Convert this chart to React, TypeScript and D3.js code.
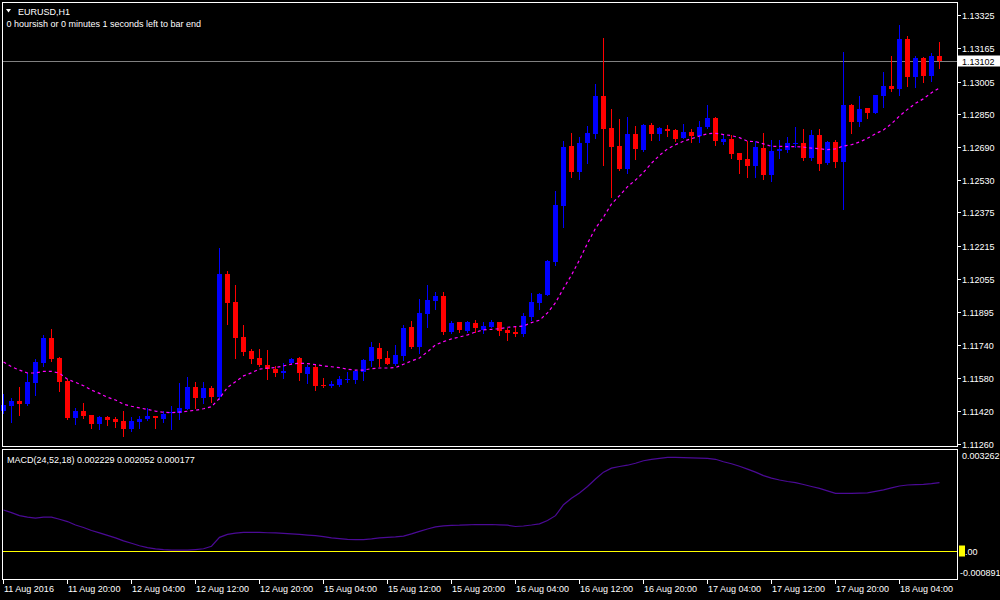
import { useEffect, useRef } from 'react';
import * as d3 from 'd3';

// EURUSD H1 bars, 11 Aug 2016 12:00 .. 18 Aug 2016 09:00
const opens = [
  1.11420, 1.11444, 1.11468, 1.11454, 1.11555, 1.11651, 1.11771, 1.11675, 1.11565, 1.11387,
  1.11420, 1.11401, 1.11358, 1.11391, 1.11382, 1.11372, 1.11334, 1.11367, 1.11382, 1.11396,
  1.11382, 1.11411, 1.11411, 1.11430, 1.11536, 1.11483, 1.11531, 1.11488, 1.12079, 1.11945,
  1.11776, 1.11709, 1.11675, 1.11642, 1.11622, 1.11603, 1.11651, 1.11675, 1.11598, 1.11632,
  1.11546, 1.11541, 1.11545, 1.11569, 1.11569, 1.11608, 1.11661, 1.11723, 1.11675, 1.11646,
  1.11685, 1.11824, 1.11728, 1.11887, 1.11949, 1.11973, 1.11800, 1.11848, 1.11805, 1.11844,
  1.11810, 1.11824, 1.11848, 1.11810, 1.11800, 1.11791, 1.11872, 1.11940, 1.11978, 1.12137,
  1.12406, 1.12695, 1.12570, 1.12709, 1.12753, 1.12935, 1.12781, 1.12695, 1.12584, 1.12753,
  1.12676, 1.12796, 1.12753, 1.12777, 1.12772, 1.12733, 1.12762, 1.12743, 1.12786, 1.12830,
  1.12714, 1.12729, 1.12661, 1.12632, 1.12599, 1.12685, 1.12555, 1.12671, 1.12676, 1.12705,
  1.12709, 1.12637, 1.12748, 1.12613, 1.12714, 1.12618, 1.12892, 1.12810, 1.12878, 1.12854,
  1.12935, 1.12983, 1.12969, 1.13210, 1.13027, 1.13118, 1.13032, 1.13128,
];

const highs = [
  1.11502, 1.11483, 1.11536, 1.11603, 1.11670, 1.11786, 1.11815, 1.11680, 1.11574, 1.11435,
  1.11459, 1.11403, 1.11396, 1.11396, 1.11391, 1.11420, 1.11391, 1.11396, 1.11435, 1.11398,
  1.11420, 1.11444, 1.11555, 1.11584, 1.11560, 1.11560, 1.11541, 1.12204, 1.12094, 1.12026,
  1.11834, 1.11718, 1.11718, 1.11714, 1.11637, 1.11651, 1.11675, 1.11680, 1.11642, 1.11642,
  1.11579, 1.11565, 1.11589, 1.11608, 1.11617, 1.11670, 1.11752, 1.11747, 1.11709, 1.11738,
  1.11834, 1.11853, 1.11959, 1.12026, 1.11993, 1.11993, 1.11853, 1.11850, 1.11853, 1.11858,
  1.11848, 1.11858, 1.11850, 1.11819, 1.11829, 1.11892, 1.11988, 1.11988, 1.12147, 1.12478,
  1.12719, 1.12757, 1.12738, 1.12791, 1.12993, 1.13214, 1.12873, 1.12825, 1.12834, 1.12791,
  1.12801, 1.12806, 1.12786, 1.12796, 1.12777, 1.12801, 1.12777, 1.12815, 1.12892, 1.12832,
  1.12748, 1.12748, 1.12663, 1.12719, 1.12719, 1.12757, 1.12724, 1.12724, 1.12738, 1.12786,
  1.12777, 1.12772, 1.12777, 1.12719, 1.12724, 1.13147, 1.12897, 1.12935, 1.12880, 1.12942,
  1.13051, 1.13128, 1.13277, 1.13224, 1.13128, 1.13123, 1.13142, 1.13195,
];

const lows = [
  1.11411, 1.11367, 1.11401, 1.11449, 1.11497, 1.11637, 1.11661, 1.11516, 1.11382, 1.11358,
  1.11387, 1.11339, 1.11334, 1.11353, 1.11343, 1.11300, 1.11324, 1.11339, 1.11377, 1.11339,
  1.11367, 1.11334, 1.11382, 1.11428, 1.11435, 1.11459, 1.11463, 1.11478, 1.11839, 1.11675,
  1.11690, 1.11651, 1.11637, 1.11574, 1.11589, 1.11579, 1.11646, 1.11569, 1.11555, 1.11521,
  1.11536, 1.11536, 1.11541, 1.11560, 1.11555, 1.11569, 1.11637, 1.11637, 1.11644, 1.11642,
  1.11666, 1.11723, 1.11699, 1.11824, 1.11911, 1.11791, 1.11795, 1.11800, 1.11800, 1.11800,
  1.11795, 1.11822, 1.11786, 1.11762, 1.11781, 1.11781, 1.11858, 1.11911, 1.11976, 1.12123,
  1.12305, 1.12546, 1.12536, 1.12613, 1.12733, 1.12604, 1.12450, 1.12579, 1.12565, 1.12632,
  1.12671, 1.12724, 1.12724, 1.12743, 1.12719, 1.12731, 1.12714, 1.12714, 1.12781, 1.12700,
  1.12705, 1.12637, 1.12565, 1.12546, 1.12546, 1.12536, 1.12527, 1.12637, 1.12666, 1.12690,
  1.12628, 1.12628, 1.12579, 1.12608, 1.12594, 1.12392, 1.12757, 1.12791, 1.12830, 1.12852,
  1.12882, 1.12959, 1.12940, 1.12983, 1.12979, 1.13003, 1.13008, 1.13070,
];

const closes = [
  1.11449, 1.11468, 1.11454, 1.11560, 1.11656, 1.11771, 1.11670, 1.11560, 1.11387, 1.11420,
  1.11396, 1.11358, 1.11391, 1.11377, 1.11367, 1.11334, 1.11372, 1.11382, 1.11396, 1.11387,
  1.11406, 1.11415, 1.11435, 1.11536, 1.11483, 1.11531, 1.11488, 1.12079, 1.11940, 1.11771,
  1.11704, 1.11670, 1.11640, 1.11622, 1.11603, 1.11613, 1.11670, 1.11603, 1.11632, 1.11541,
  1.11540, 1.11550, 1.11574, 1.11574, 1.11613, 1.11666, 1.11728, 1.11670, 1.11646, 1.11690,
  1.11819, 1.11728, 1.11892, 1.11954, 1.11973, 1.11800, 1.11844, 1.11810, 1.11848, 1.11819,
  1.11829, 1.11848, 1.11805, 1.11795, 1.11791, 1.11877, 1.11945, 1.11983, 1.12142, 1.12411,
  1.12690, 1.12570, 1.12709, 1.12757, 1.12935, 1.12777, 1.12690, 1.12584, 1.12753, 1.12681,
  1.12796, 1.12753, 1.12781, 1.12767, 1.12729, 1.12762, 1.12743, 1.12786, 1.12830, 1.12719,
  1.12729, 1.12656, 1.12628, 1.12599, 1.12690, 1.12555, 1.12671, 1.12681, 1.12709, 1.12709,
  1.12637, 1.12748, 1.12608, 1.12714, 1.12618, 1.12892, 1.12810, 1.12873, 1.12854, 1.12940,
  1.12983, 1.12969, 1.13210, 1.13027, 1.13118, 1.13032, 1.13128, 1.13102,
];

// moving average overlay (magenta dashed)
const maValues = [
  1.11656, 1.11633, 1.11617, 1.11603, 1.11603, 1.11611, 1.11611, 1.11602, 1.11573, 1.11558,
  1.11542, 1.11521, 1.11505, 1.11486, 1.11473, 1.11453, 1.11443, 1.11435, 1.11428, 1.11420,
  1.11414, 1.11412, 1.11415, 1.11419, 1.11424, 1.11431, 1.11441, 1.11481, 1.11534, 1.11561,
  1.11589, 1.11604, 1.11622, 1.11626, 1.11629, 1.11637, 1.11646, 1.11650, 1.11648, 1.11643,
  1.11637, 1.11633, 1.11629, 1.11621, 1.11617, 1.11617, 1.11624, 1.11627, 1.11627, 1.11629,
  1.11645, 1.11661, 1.11675, 1.11705, 1.11738, 1.11754, 1.11767, 1.11776, 1.11786, 1.11800,
  1.11810, 1.11813, 1.11816, 1.11823, 1.11826, 1.11829, 1.11845, 1.11857, 1.11892, 1.11941,
  1.12010, 1.12074, 1.12147, 1.12227, 1.12299, 1.12353, 1.12416, 1.12456, 1.12499, 1.12531,
  1.12568, 1.12612, 1.12650, 1.12681, 1.12701, 1.12718, 1.12730, 1.12743, 1.12754, 1.12756,
  1.12750, 1.12745, 1.12735, 1.12718, 1.12716, 1.12705, 1.12693, 1.12693, 1.12692, 1.12692,
  1.12689, 1.12685, 1.12682, 1.12677, 1.12681, 1.12695, 1.12701, 1.12714, 1.12732, 1.12754,
  1.12772, 1.12802, 1.12839, 1.12871, 1.12900, 1.12922, 1.12951, 1.12974,
];

const macdValues = [
  0.001322, 0.001236, 0.001141, 0.001094, 0.001062, 0.001094, 0.001094, 0.001024, 0.000951, 0.000840,
  0.000761, 0.000666, 0.000586, 0.000507, 0.000428, 0.000333, 0.000254, 0.000174, 0.000117, 0.000073,
  0.000048, 0.000032, 0.000032, 0.000032, 0.000054, 0.000079, 0.000159, 0.000444, 0.000539, 0.000580,
  0.000602, 0.000602, 0.000602, 0.000593, 0.000586, 0.000571, 0.000555, 0.000539, 0.000517, 0.000498,
  0.000466, 0.000428, 0.000406, 0.000380, 0.000371, 0.000374, 0.000396, 0.000428, 0.000444, 0.000460,
  0.000485, 0.000555, 0.000634, 0.000713, 0.000783, 0.000815, 0.000831, 0.000834, 0.000846, 0.000856,
  0.000856, 0.000856, 0.000846, 0.000834, 0.000793, 0.000808, 0.000840, 0.000878, 0.000983, 0.001141,
  0.001490, 0.001696, 0.001870, 0.002076, 0.002314, 0.002536, 0.002663, 0.002717, 0.002758, 0.002821,
  0.002901, 0.002948, 0.002980, 0.003012, 0.003012, 0.003002, 0.002996, 0.002986, 0.002980, 0.002948,
  0.002869, 0.002806, 0.002726, 0.002631, 0.002536, 0.002425, 0.002346, 0.002283, 0.002235, 0.002197,
  0.002140, 0.002076, 0.002013, 0.001934, 0.001855, 0.001855, 0.001855, 0.001861, 0.001870, 0.001918,
  0.001966, 0.002029, 0.002092, 0.002124, 0.002134, 0.002146, 0.002165, 0.002200,
];

const priceTicks = [
  1.13325, 1.13165, 1.13005, 1.12850, 1.12690, 1.12530, 1.12375,
  1.12215, 1.12055, 1.11895, 1.11740, 1.11580, 1.11420, 1.11260,
];

const timeLabels = [
  '11 Aug 2016', '11 Aug 20:00', '12 Aug 04:00', '12 Aug 12:00', '12 Aug 20:00',
  '15 Aug 04:00', '15 Aug 12:00', '15 Aug 20:00', '16 Aug 04:00', '16 Aug 12:00',
  '16 Aug 20:00', '17 Aug 04:00', '17 Aug 12:00', '17 Aug 20:00', '18 Aug 04:00',
];

const lastPrice = 1.13102;
const macdMin = -0.000891;
const macdMax = 0.003262;
const title = 'EURUSD,H1';
const subtitle = '0 hoursish or 0 minutes 1 seconds left to bar end';
const macdLegend = 'MACD(24,52,18) 0.002229 0.002052 0.000177';

const FONT = '"Liberation Sans", Arial, sans-serif';

export default function App() {
  const svgRef = useRef<SVGSVGElement>(null);
  const width = 1000;
  const height = 600;

  useEffect(() => {
    if (!svgRef.current) return;
    const svg = d3.select(svgRef.current);
    svg.selectAll('*').remove();

    const main = { left: 2.5, right: 957.5, top: 2.5, bottom: 446.5 };
    const sub = { top: 449.5, bottom: 579.5 };

    const x = d3.scaleLinear().domain([0, opens.length - 1]).range([3, 939]);
    const y = d3.scaleLinear().domain([1.1126, 1.13325]).range([444.3, 15]);
    const ym = d3.scaleLinear().domain([macdMin, macdMax]).range([579, 449.5]);

    svg.append('rect').attr('width', width).attr('height', height).attr('fill', '#000');

    const bars = opens.map((o, i) => ({ i, o, h: highs[i], l: lows[i], c: closes[i] }));

    // current price line
    const py = Math.round(y(lastPrice)) + 0.5;
    svg.append('line')
      .attr('x1', main.left).attr('x2', main.right)
      .attr('y1', py).attr('y2', py)
      .attr('stroke', '#808080')
      .attr('shape-rendering', 'crispEdges');

    // candles
    const g = svg.append('g').attr('shape-rendering', 'crispEdges');
    const colorOf = (d: { o: number; c: number }) => (d.c > d.o ? '#0000ff' : '#ff0000');

    g.selectAll('.wick')
      .data(bars)
      .enter().append('line')
      .attr('class', 'wick')
      .attr('x1', d => Math.round(x(d.i)) + 0.5)
      .attr('x2', d => Math.round(x(d.i)) + 0.5)
      .attr('y1', d => Math.round(y(d.h)))
      .attr('y2', d => Math.round(y(d.l)) + 1)
      .attr('stroke', colorOf);

    g.selectAll('.body')
      .data(bars)
      .enter().append('rect')
      .attr('class', 'body')
      .attr('x', d => Math.round(x(d.i)) - 2)
      .attr('width', 5)
      .attr('y', d => Math.round(y(Math.max(d.o, d.c))))
      .attr('height', d => Math.max(1, Math.round(y(Math.min(d.o, d.c))) - Math.round(y(Math.max(d.o, d.c)))))
      .attr('fill', colorOf);

    // moving average
    const maLine = d3.line<number>()
      .x((_, i) => x(i) + 0.5)
      .y(v => y(v));
    svg.append('path')
      .attr('d', maLine(maValues))
      .attr('fill', 'none')
      .attr('stroke', '#ff00ff')
      .attr('stroke-width', 1.2)
      .attr('stroke-dasharray', '3 3');

    // MACD
    const zy = Math.round(ym(0)) + 0.5;
    svg.append('line')
      .attr('x1', main.left).attr('x2', main.right)
      .attr('y1', zy).attr('y2', zy)
      .attr('stroke', '#ffff00')
      .attr('shape-rendering', 'crispEdges');

    const macdLine = d3.line<number>()
      .x((_, i) => x(i) + 0.5)
      .y(v => ym(v));
    svg.append('path')
      .attr('d', macdLine(macdValues))
      .attr('fill', 'none')
      .attr('stroke', '#4b0a96')
      .attr('stroke-width', 1.2);

    // frames
    const frame = svg.append('g')
      .attr('fill', 'none')
      .attr('stroke', '#fff')
      .attr('shape-rendering', 'crispEdges');
    frame.append('rect')
      .attr('x', main.left).attr('y', main.top)
      .attr('width', main.right - main.left).attr('height', main.bottom - main.top);
    frame.append('rect')
      .attr('x', main.left).attr('y', sub.top)
      .attr('width', main.right - main.left).attr('height', sub.bottom - sub.top);

    // price axis
    const fmt = d3.format('.5f');
    const axis = svg.append('g').attr('font-family', FONT).attr('font-size', 9).attr('fill', '#fff');
    priceTicks.forEach(t => {
      const ty = Math.round(y(t)) + 0.5;
      axis.append('line')
        .attr('x1', main.right).attr('x2', main.right + 3)
        .attr('y1', ty).attr('y2', ty)
        .attr('stroke', '#fff').attr('shape-rendering', 'crispEdges');
      axis.append('text').attr('x', 962).attr('y', ty + 3.2).text(fmt(t));
    });

    // last price tag
    svg.append('rect')
      .attr('x', 958).attr('y', py - 6)
      .attr('width', 42).attr('height', 11)
      .attr('fill', '#fff');
    svg.append('text')
      .attr('x', 962).attr('y', py + 3.2)
      .attr('font-family', FONT).attr('font-size', 9)
      .attr('fill', '#000')
      .text(fmt(lastPrice));

    // MACD axis
    axis.append('text').attr('x', 962).attr('y', ym(macdMax) + 9.5).text(String(macdMax));
    axis.append('text').attr('x', 960).attr('y', ym(macdMin) - 2.8).text(String(macdMin));
    svg.append('rect')
      .attr('x', 959).attr('y', zy - 6)
      .attr('width', 6).attr('height', 11)
      .attr('fill', '#ffff00');
    const zt = axis.append('text').attr('x', 960).attr('y', zy + 3.2);
    zt.append('tspan').attr('fill', '#000').text('0');
    zt.append('tspan').text('.00');

    // time axis
    timeLabels.forEach((label, k) => {
      const tx = Math.round(x(k * 8)) + 0.5;
      axis.append('line')
        .attr('x1', tx).attr('x2', tx)
        .attr('y1', sub.bottom).attr('y2', sub.bottom + 4)
        .attr('stroke', '#fff').attr('shape-rendering', 'crispEdges');
      axis.append('text').attr('x', tx + 0.5).attr('y', 591.5).text(label);
    });

    // titles
    svg.append('path')
      .attr('d', 'M6,9 L11,9 L8.5,12.5 Z')
      .attr('fill', '#fff');
    axis.append('text').attr('x', 18).attr('y', 14.5).text(title);
    axis.append('text').attr('x', 6.5).attr('y', 26.5).text(subtitle);
    axis.append('text').attr('x', 7).attr('y', 462.5).text(macdLegend);
  }, []);

  return (
    <svg
      ref={svgRef}
      width={width}
      height={height}
      style={{ position: 'absolute', left: 0, top: 0, background: '#000' }}
    />
  );
}
